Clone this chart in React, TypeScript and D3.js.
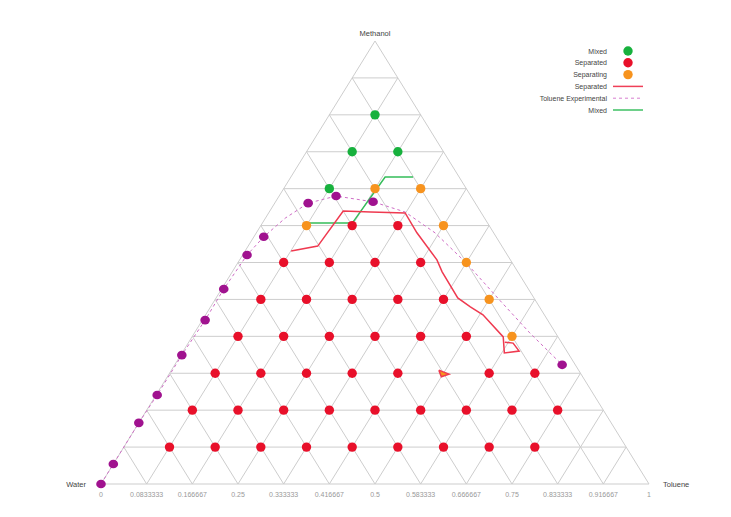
import React from 'react';
import * as d3 from 'd3';

// ternary points as [methanol, toluene] in twelfths (water = rest)
const mixedPts: [number, number][] = [[8, 1], [9, 1], [9, 2], [10, 1]];

const separatedPts: [number, number][] = [
  [1, 1], [1, 2], [1, 3], [1, 4], [1, 5], [1, 6], [1, 7], [1, 8], [1, 9],
  [2, 1], [2, 2], [2, 3], [2, 4], [2, 5], [2, 6], [2, 7], [2, 8], [2, 9],
  [3, 1], [3, 2], [3, 3], [3, 4], [3, 5], [3, 7], [3, 8],
  [4, 1], [4, 2], [4, 3], [4, 4], [4, 5], [4, 6],
  [5, 1], [5, 2], [5, 3], [5, 4], [5, 5],
  [6, 1], [6, 2], [6, 3], [6, 4],
  [7, 2], [7, 3],
];

const separatingPts: [number, number][] = [
  [4, 7], [5, 6], [6, 5], [7, 1], [7, 4], [8, 2], [8, 3],
];

// lines as [methanol, toluene] fractions
const separatedLine: [number, number][] = [
  [0.526, 0.084], [0.537, 0.127], [0.616, 0.134], [0.614, 0.185], [0.612, 0.249],
  [0.567, 0.293], [0.506, 0.36], [0.479, 0.383], [0.42, 0.441], [0.4, 0.474],
  [0.382, 0.506], [0.332, 0.568], [0.296, 0.588], [0.3, 0.613], [0.318, 0.593],
  [0.32, 0.577],
];

const separatedLoop: [number, number][] = [
  [0.257, 0.488], [0.248, 0.511], [0.242, 0.5], [0.257, 0.488],
];

const mixedLine: [number, number][] = [
  [0.589, 0.085], [0.589, 0.164], [0.693, 0.172], [0.693, 0.223],
];

const experimentalPts: [number, number][] = [
  [0, 0], [0.045, 0], [0.138, 0], [0.201, 0.002], [0.291, 0.002], [0.37, 0.005],
  [0.44, 0.004], [0.517, 0.008], [0.558, 0.018], [0.634, 0.061], [0.65, 0.104],
  [0.637, 0.178], [0.269, 0.707],
];

const experimentalLine: [number, number][] = [
  [0, 0], [0.045, 0], [0.138, 0], [0.201, 0.002], [0.291, 0.002], [0.37, 0.005],
  [0.44, 0.004], [0.517, 0.008], [0.558, 0.018], [0.6, 0.036], [0.634, 0.061],
  [0.65, 0.104], [0.637, 0.178], [0.614, 0.248], [0.567, 0.326], [0.499, 0.417],
  [0.415, 0.52], [0.341, 0.612], [0.269, 0.707],
];

const tickLabels = [
  '0', '0.0833333', '0.166667', '0.25', '0.333333', '0.416667', '0.5',
  '0.583333', '0.666667', '0.75', '0.833333', '0.916667', '1',
];

const GREEN = '#17b13d';
const RED = '#e8102a';
const ORANGE = '#f7931e';
const PURPLE = '#a0128f';
const FONT = 'Liberation Sans, Arial, sans-serif';

export default function App() {
  const width = 731;
  const height = 517;

  const xScale = d3.scaleLinear().domain([0, 1]).range([101, 649]);
  const yScale = d3.scaleLinear().domain([0, 1]).range([484, 41]);

  const px = (m: number, t: number) => xScale(t + m / 2);
  const py = (m: number) => yScale(m);

  const line = d3
    .line<[number, number]>()
    .x((d) => px(d[0], d[1]))
    .y((d) => py(d[0]));

  // grid lines
  const grid: [number, number][][] = [];
  for (let k = 1; k < 12; k++) {
    const f = k / 12;
    grid.push([[f, 0], [f, 1 - f]]);
    grid.push([[0, f], [1 - f, f]]);
    grid.push([[0, 1 - f], [1 - f, 0]]);
  }
  const outline: [number, number][] = [[0, 0], [0, 1], [1, 0], [0, 0]];

  const legendItems = [
    { label: 'Mixed', kind: 'dot', color: GREEN },
    { label: 'Separated', kind: 'dot', color: RED },
    { label: 'Separating', kind: 'dot', color: ORANGE },
    { label: 'Separated', kind: 'line', color: '#ef4058' },
    { label: 'Toluene Experimental', kind: 'dash', color: '#d77fcf' },
    { label: 'Mixed', kind: 'line', color: '#3ec063' },
  ];
  const legendY = d3.scalePoint<number>().domain(d3.range(6)).range([51, 110]);

  const dot = (pts: [number, number][], color: string, key: string, div = 12) =>
    pts.map((d, i) => (
      <circle
        key={key + i}
        cx={px(d[0] / div, d[1] / div)}
        cy={py(d[0] / div)}
        r={4.7}
        fill={color}
      />
    ));

  return (
    <svg
      width={width}
      height={height}
      style={{ position: 'absolute', left: 0, top: 0, background: '#fff' }}
      fontFamily={FONT}
    >
      <rect x={0} y={0} width={width} height={height} fill="#fff" />
      <g stroke="#cdcdcd" strokeWidth={1} fill="none">
        {grid.map((g, i) => (
          <path key={i} d={line(g) || ''} />
        ))}
        <path d={line(outline) || ''} />
      </g>

      {/* axis labels */}
      <g fontSize={7} fill="#999" textAnchor="middle">
        {tickLabels.map((l, i) => (
          <text key={i} x={xScale(i / 12)} y={497}>
            {l}
          </text>
        ))}
      </g>
      <g fontSize={7.5} fill="#444">
        <text x={86} y={487} textAnchor="end">Water</text>
        <text x={663} y={487}>Toluene</text>
        <text x={375} y={36} textAnchor="middle">Methanol</text>
      </g>

      {/* lines */}
      <path d={line(experimentalLine) || ''} fill="none" stroke="#cf6ec6" strokeWidth={1} strokeDasharray="3,3" />
      <path d={line(mixedLine) || ''} fill="none" stroke="#35bd5a" strokeWidth={1.5} />
      <path d={line(separatedLine) || ''} fill="none" stroke="#ef3a50" strokeWidth={1.5} />

      {/* points */}
      {dot(mixedPts, GREEN, 'g')}
      {dot(separatedPts, RED, 'r')}
      {dot(separatingPts, ORANGE, 'o')}
      {experimentalPts.map((d, i) => (
        <ellipse key={'p' + i} cx={px(d[0], d[1])} cy={py(d[0])} rx={4.8} ry={4.3} fill={PURPLE} />
      ))}
      <path d={line(separatedLoop) || ''} fill={ORANGE} stroke="#ef3a50" strokeWidth={1.5} />

      {/* legend */}
      <g fontSize={7} fill="#444">
        {legendItems.map((it, i) => {
          const y = legendY(i) || 0;
          return (
            <g key={i}>
              <text x={607} y={y + 2.5} textAnchor="end">{it.label}</text>
              {it.kind === 'dot' ? (
                <circle cx={628} cy={y} r={4.7} fill={it.color} />
              ) : (
                <line
                  x1={613}
                  x2={643}
                  y1={y}
                  y2={y}
                  stroke={it.color}
                  strokeWidth={it.kind === 'dash' ? 1 : 1.5}
                  strokeDasharray={it.kind === 'dash' ? '3,3' : undefined}
                />
              )}
            </g>
          );
        })}
      </g>
    </svg>
  );
}
